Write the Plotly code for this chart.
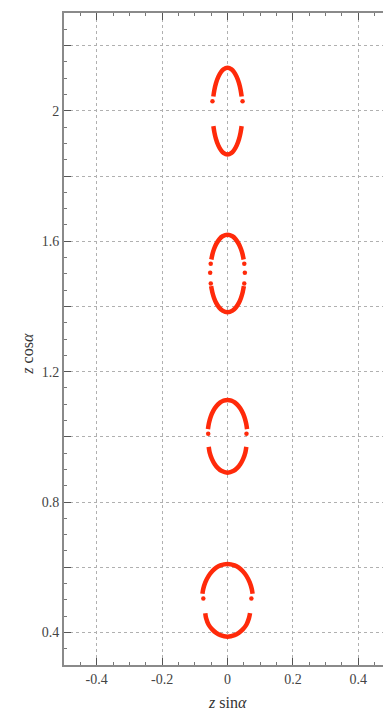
import plotly.graph_objects as go

# Upper arc, lower arc and detached end points of each ring, left to right
ring1_top_x = [-0.0767, -0.0741, -0.0679, -0.0577, -0.0461, -0.0345, -0.0219, 0.0,
               0.0219, 0.0345, 0.0461, 0.0577, 0.0679, 0.0741, 0.0767]
ring1_top_y = [0.5185, 0.5335, 0.5535, 0.5735, 0.5885, 0.5985, 0.6055, 0.610,
               0.6055, 0.5985, 0.5885, 0.5735, 0.5535, 0.5335, 0.5185]
ring1_bot_x = [-0.068, -0.0655, -0.0577, -0.0461, -0.0345, -0.0219, 0.0,
               0.0219, 0.0345, 0.0461, 0.0577, 0.0655, 0.069]
ring1_bot_y = [0.459, 0.4435, 0.4235, 0.4085, 0.3985, 0.3915, 0.387,
               0.3915, 0.3985, 0.4085, 0.4235, 0.4435, 0.459]
ring1_dot_x = [-0.074, 0.073]
ring1_dot_y = [0.504, 0.504]

ring2_top_x = [-0.0598, -0.0569, -0.0514, -0.0436, -0.0336, -0.022, -0.0116, 0.0,
               0.0116, 0.022, 0.0336, 0.0436, 0.0514, 0.0569, 0.0598]
ring2_top_y = [1.0235, 1.0415, 1.0615, 1.0795, 1.0945, 1.1055, 1.111, 1.113,
               1.111, 1.1055, 1.0945, 1.0795, 1.0615, 1.0415, 1.0235]
ring2_bot_x = [-0.0575, -0.0545, -0.0475, -0.0395, -0.0301, -0.0189, 0.0,
               0.0189, 0.0301, 0.0395, 0.0475, 0.0545, 0.0575]
ring2_bot_y = [0.969, 0.9515, 0.9315, 0.9165, 0.9045, 0.8955, 0.890,
               0.8955, 0.9045, 0.9165, 0.9315, 0.9515, 0.969]
ring2_dot_x = [-0.059, 0.058]
ring2_dot_y = [1.009, 1.009]

ring3_top_x = [-0.0494, -0.0458, -0.0412, -0.0347, -0.025, -0.0152, 0.0,
               0.0152, 0.025, 0.0347, 0.0412, 0.0458, 0.0494]
ring3_top_y = [1.544, 1.561, 1.576, 1.591, 1.606, 1.615, 1.620,
               1.615, 1.606, 1.591, 1.576, 1.561, 1.544]
ring3_bot_x = [-0.0501, -0.0458, -0.0412, -0.0347, -0.025, -0.0152, 0.0,
               0.0152, 0.025, 0.0347, 0.0412, 0.0458, 0.0501]
ring3_bot_y = [1.462, 1.441, 1.426, 1.411, 1.396, 1.387, 1.382,
               1.387, 1.396, 1.411, 1.426, 1.441, 1.462]
ring3_dot_x = [-0.0513, -0.053, -0.0512, 0.0513, 0.053, 0.0512]
ring3_dot_y = [1.531, 1.503, 1.470, 1.531, 1.503, 1.470]

ring4_top_x = [-0.0433, -0.0401, -0.0354, -0.0282, -0.0198, -0.0125, 0.0,
               0.0125, 0.0198, 0.0282, 0.0354, 0.0401, 0.0433]
ring4_top_y = [2.044, 2.064, 2.084, 2.104, 2.119, 2.127, 2.132,
               2.127, 2.119, 2.104, 2.084, 2.064, 2.044]
ring4_bot_x = [-0.0432, -0.0401, -0.0354, -0.0282, -0.0198, -0.0125, 0.0,
               0.0125, 0.0198, 0.0282, 0.0354, 0.0401, 0.0432]
ring4_bot_y = [1.953, 1.934, 1.914, 1.894, 1.879, 1.871, 1.866,
               1.871, 1.879, 1.894, 1.914, 1.934, 1.953]
ring4_dot_x = [-0.046, 0.046]
ring4_dot_y = [2.029, 2.029]

x_tick_vals = [-0.4, -0.2, 0.0, 0.2, 0.4]
x_tick_text = ["-0.4", "-0.2", "0", "0.2", "0.4"]
y_tick_vals = [0.4, 0.6, 0.8, 1.0, 1.2, 1.4, 1.6, 1.8, 2.0, 2.2]
y_tick_text = ["0.4", "", "0.8", "", "1.2", "", "1.6", "", "2", ""]

RED = "#ff2a0a"
AXIS = "#8a8a8a"
GRID = "#b0b0b0"
SERIF = "Liberation Serif, Times New Roman, serif"

rings = [
    (ring1_top_x, ring1_top_y, ring1_bot_x, ring1_bot_y, ring1_dot_x, ring1_dot_y),
    (ring2_top_x, ring2_top_y, ring2_bot_x, ring2_bot_y, ring2_dot_x, ring2_dot_y),
    (ring3_top_x, ring3_top_y, ring3_bot_x, ring3_bot_y, ring3_dot_x, ring3_dot_y),
    (ring4_top_x, ring4_top_y, ring4_bot_x, ring4_bot_y, ring4_dot_x, ring4_dot_y),
]

fig = go.Figure()
for tx, ty, bx, by, dx, dy in rings:
    for ax_, ay_ in ((tx, ty), (bx, by)):
        fig.add_trace(go.Scatter(
            x=ax_, y=ay_, mode="lines",
            line=dict(color=RED, width=4.5, shape="spline", smoothing=0.8),
            hoverinfo="skip", showlegend=False,
        ))
    fig.add_trace(go.Scatter(
        x=dx, y=dy, mode="markers",
        marker=dict(color=RED, size=4.5, line=dict(width=0)),
        hoverinfo="skip", showlegend=False,
    ))

fig.update_layout(
    width=383, height=712,
    margin=dict(l=64, r=0, t=13, b=47),
    paper_bgcolor="white", plot_bgcolor="white",
    font=dict(family=SERIF, size=14, color="#333333"),
)

fig.update_xaxes(
    range=[-0.5, 0.4755],
    tickmode="array", tickvals=x_tick_vals, ticktext=x_tick_text,
    ticks="inside", ticklen=7, tickwidth=1.2, tickcolor="#555555",
    showline=True, linecolor=AXIS, linewidth=2, mirror="ticks",
    showgrid=True, gridcolor=GRID, griddash="dot", gridwidth=1,
    zeroline=False,
    tickfont=dict(family=SERIF, size=14, color="#444444"),
    minor=dict(dtick=0.05, ticks="inside", ticklen=3, tickcolor="#777777", showgrid=False),
)
fig.update_yaxes(
    range=[0.3, 2.3],
    tickmode="array", tickvals=y_tick_vals, ticktext=y_tick_text,
    ticks="inside", ticklen=7, tickwidth=1.2, tickcolor="#555555",
    showline=True, linecolor=AXIS, linewidth=2, mirror=False,
    showgrid=True, gridcolor=GRID, griddash="dot", gridwidth=1,
    zeroline=False,
    tickfont=dict(family=SERIF, size=14, color="#444444"),
    minor=dict(dtick=0.05, ticks="inside", ticklen=3, tickcolor="#777777", showgrid=False),
)

# Axis titles
fig.add_annotation(
    text="<i>z</i> sin<i>α</i>", x=0.0, xref="x", y=0, yref="paper",
    yshift=-48, showarrow=False, xanchor="center", yanchor="bottom",
    font=dict(family=SERIF, size=16, color="#333333"),
)
fig.add_annotation(
    text="<i>z</i> cos<i>α</i>", x=0, xref="paper", xshift=-36, y=1.255, yref="y",
    showarrow=False, textangle=-90, xanchor="center", yanchor="middle",
    font=dict(family=SERIF, size=16, color="#333333"),
)

fig.write_html("out.html")
